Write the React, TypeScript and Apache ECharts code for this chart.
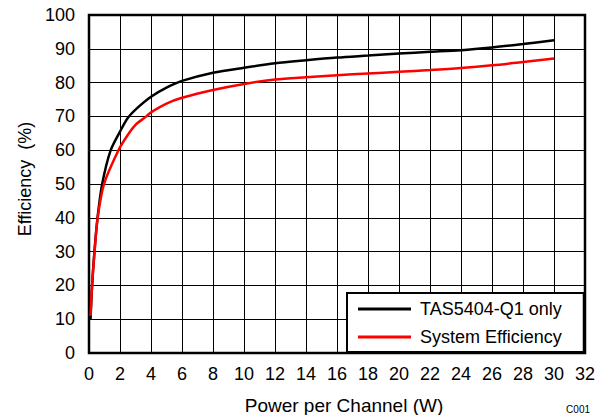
import React, { useEffect, useRef } from "react";
import * as echarts from "echarts";

const seriesNames = ["TAS5404-Q1 only", "System Efficiency"];

const tasPower = [0.1, 0.2, 0.35, 0.55, 0.85, 1.4, 2.0, 2.5, 3, 4, 5, 6, 8, 10, 12, 14, 16, 18, 20, 22, 24, 26, 28, 30];
const tasEff = [10, 20, 30, 40, 50, 60, 65.5, 69.5, 72, 75.8, 78.5, 80.5, 82.9, 84.4, 85.7, 86.6, 87.4, 88, 88.6, 89.1, 89.6, 90.4, 91.4, 92.5];

const sysPower = [0.1, 0.2, 0.36, 0.56, 0.97, 1.9, 2.5, 3, 3.7, 4, 5, 6, 8, 10, 12, 14, 16, 18, 20, 22, 24, 26, 28, 30];
const sysEff = [11, 20, 30, 40, 50, 60, 64.5, 67.5, 70, 71.2, 73.8, 75.5, 77.8, 79.6, 80.9, 81.6, 82.2, 82.7, 83.2, 83.7, 84.3, 85.1, 86.1, 87.1];

const xTitle = "Power per Channel (W)";
const yTitle = "Efficiency  (%)";
const footnote = "C001";

const FONT = "Liberation Sans, Arial, sans-serif";

export default function App() {
  const ref = useRef<HTMLDivElement>(null);
  useEffect(() => {
    if (!ref.current) return;
    const chart = echarts.init(ref.current, null, { renderer: "svg" });
    const toPts = (xs: number[], ys: number[]) => xs.map((x, i) => [x, ys[i]]);
    chart.setOption({
      animation: false,
      backgroundColor: "#fff",
      textStyle: { fontFamily: FONT },
      grid: {
        left: 89,
        right: 19,
        top: 15,
        bottom: 62,
        show: true,
        borderColor: "#000",
        borderWidth: 2.5,
        containLabel: false,
      },
      xAxis: {
        type: "value",
        min: 0,
        max: 32,
        interval: 2,
        axisLine: { show: false },
        axisTick: { show: false },
        axisLabel: { color: "#000", fontSize: 18, fontFamily: FONT, margin: 12 },
        splitLine: { show: true, lineStyle: { color: "#000", width: 1 } },
      },
      yAxis: {
        type: "value",
        min: 0,
        max: 100,
        interval: 10,
        axisLine: { show: false },
        axisTick: { show: false },
        axisLabel: { color: "#000", fontSize: 18, fontFamily: FONT, margin: 14 },
        splitLine: { show: true, lineStyle: { color: "#000", width: 1 } },
      },
      legend: {
        orient: "vertical",
        left: 347,
        top: 293,
        padding: [7, 22, 6, 11],
        backgroundColor: "#fff",
        borderColor: "#000",
        borderWidth: 2,
        borderRadius: 0,
        itemWidth: 53,
        itemHeight: 3,
        itemGap: 10,
        icon: "rect",
        textStyle: { color: "#000", fontSize: 18, fontFamily: FONT, padding: [0, 0, 0, 4] },
        data: seriesNames,
      },
      series: [
        {
          name: seriesNames[0],
          type: "line",
          data: toPts(tasPower, tasEff),
          smooth: 0.3,
          showSymbol: false,
          symbol: "none",
          lineStyle: { color: "#000", width: 2.5 },
          itemStyle: { color: "#000" },
          z: 3,
        },
        {
          name: seriesNames[1],
          type: "line",
          data: toPts(sysPower, sysEff),
          smooth: 0.3,
          showSymbol: false,
          symbol: "none",
          lineStyle: { color: "#ff0000", width: 2.5 },
          itemStyle: { color: "#ff0000" },
          z: 4,
        },
      ],
      graphic: [
        {
          type: "text",
          x: 344,
          y: 405,
          style: { text: xTitle, fontSize: 19, fontFamily: FONT, fill: "#000", align: "center", verticalAlign: "middle" },
        },
        {
          type: "text",
          x: 25,
          y: 179,
          rotation: Math.PI / 2,
          style: { text: yTitle, fontSize: 18, fontFamily: FONT, fill: "#000", align: "center", verticalAlign: "middle" },
        },
        {
          type: "text",
          x: 590,
          y: 409,
          style: { text: footnote, fontSize: 10, fontFamily: FONT, fill: "#000", align: "right", verticalAlign: "middle" },
        },
      ],
    });
    return () => chart.dispose();
  }, []);
  return <div ref={ref} style={{ width: 604, height: 415, position: "absolute", left: 0, top: 0 }} />;
}
